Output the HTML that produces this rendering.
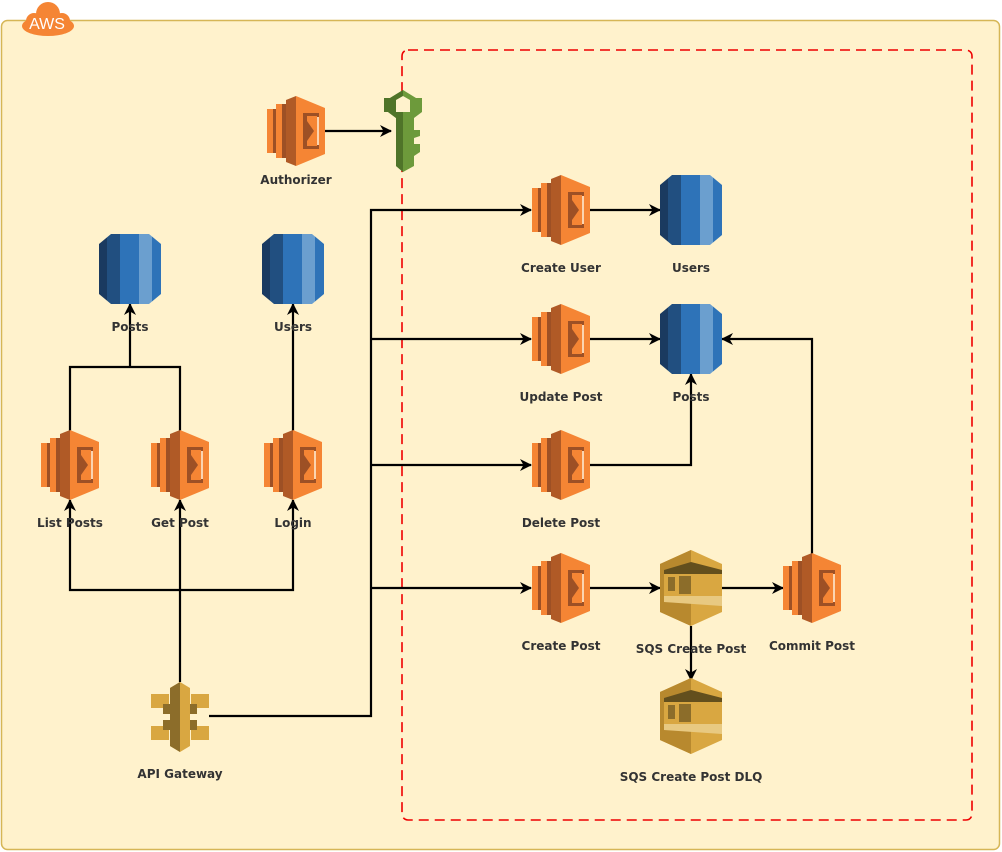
<!DOCTYPE html>
<html><head><meta charset="utf-8"><style>
html,body{margin:0;padding:0;background:#fff;}
svg{display:block;}
</style></head><body>
<svg width="1002" height="852" viewBox="0 0 1002 852" xmlns="http://www.w3.org/2000/svg" font-family="DejaVu Sans, Liberation Sans, sans-serif" font-size="12" font-weight="bold" text-anchor="middle">
<defs>
<marker id="ar" markerWidth="12" markerHeight="12" refX="11" refY="6" orient="auto" markerUnits="userSpaceOnUse">
<path d="M0,0 L12,6 L0,12 L3.5,6 Z" fill="#000"/>
</marker>
<g id="lam">
<rect x="0" y="13" width="6" height="44" fill="#f58534"/>
<rect x="6" y="13" width="3" height="44" fill="#9d5025"/>
<rect x="9" y="8" width="6" height="54" fill="#f58534"/>
<rect x="15" y="8" width="4" height="54" fill="#9d5025"/>
<polygon points="19,4 29,0 29,70 19,66" fill="#b05a26"/>
<polygon points="29,0 58,12 58,58 29,70" fill="#f58534"/>
<rect x="36" y="17" width="16" height="36" fill="#9d5025"/>
<polygon points="40,21 52,21 52,49 40,49" fill="#fbd4b0"/>
<rect x="36" y="20" width="14" height="30" fill="#f58534"/>
<polygon points="40,25 47,35 40,45" fill="#9d5025"/>
<rect x="36" y="20" width="4" height="30" fill="#9d5025"/>
</g>
<clipPath id="dbc"><polygon points="0,10 12,0 50,0 62,10 62,60 50,70 12,70 0,60"/></clipPath>
<g id="db">
<g clip-path="url(#dbc)">
<rect x="0" y="0" width="8" height="70" fill="#1a3a60"/>
<rect x="8" y="0" width="13" height="70" fill="#214f80"/>
<rect x="21" y="0" width="19" height="70" fill="#2e73b8"/>
<rect x="40" y="0" width="13" height="70" fill="#6b9fcf"/>
<rect x="53" y="0" width="9" height="70" fill="#2e73b8"/>
</g>
</g>
<g id="sqs">
<polygon points="31,0 62,14 62,62 31,76 0,62 0,14" fill="#d9a741"/>
<polygon points="31,0 0,14 0,62 31,76" fill="#b8892e"/>
<polygon points="4,20 31,12 62,20 62,24 4,24" fill="#634f1d"/>
<rect x="4" y="24" width="58" height="22" fill="#d9a741"/>
<rect x="8" y="27" width="7" height="14" fill="#8c6d2a"/>
<rect x="19" y="26" width="12" height="18" fill="#8c6d2a"/>
<polygon points="4,46 62,46 62,56 4,52" fill="#e8c981"/>
</g>
<g id="apig">
<rect x="0" y="12" width="18" height="14" fill="#d9a741"/>
<rect x="40" y="12" width="18" height="14" fill="#d9a741"/>
<rect x="0" y="44" width="18" height="14" fill="#d9a741"/>
<rect x="40" y="44" width="18" height="14" fill="#d9a741"/>
<rect x="12" y="22" width="34" height="10" fill="#8c6d2a"/>
<rect x="12" y="38" width="34" height="10" fill="#8c6d2a"/>
<polygon points="19,6 29,0 39,6 39,64 29,70 19,64" fill="#d9a741"/>
<polygon points="19,6 29,0 29,70 19,64" fill="#8c6d2a"/>
</g>
</defs>

<rect x="1.5" y="20.5" width="998" height="829" rx="6" fill="#fff2cc" stroke="#d6b656" stroke-width="1.5"/>
<g>
<ellipse cx="48" cy="26" rx="26" ry="10" fill="#f58534"/>
<circle cx="48" cy="14" r="12" fill="#f58534"/>
<circle cx="34" cy="21" r="8" fill="#f58534"/>
<circle cx="62" cy="21" r="8" fill="#f58534"/>
<text x="47" y="29" font-family="Liberation Sans, sans-serif" font-size="16" font-weight="normal" fill="#fff">AWS</text>
</g>

<rect x="402" y="50" width="570" height="770" rx="6" fill="none" stroke="#e00" stroke-width="1.6" stroke-dasharray="10,6"/>

<g fill="none" stroke="#000" stroke-width="2.2">
<path d="M325,131 H391" marker-end="url(#ar)"/>
<path d="M209,716 H371 V210 H531" marker-end="url(#ar)"/>
<path d="M371,339 H531" marker-end="url(#ar)"/>
<path d="M371,465 H531" marker-end="url(#ar)"/>
<path d="M371,588 H531" marker-end="url(#ar)"/>
<path d="M589,210 H660" marker-end="url(#ar)"/>
<path d="M589,339 H660" marker-end="url(#ar)"/>
<path d="M589,465 H691 V374" marker-end="url(#ar)"/>
<path d="M812,555 V339 H722" marker-end="url(#ar)"/>
<path d="M589,588 H660" marker-end="url(#ar)"/>
<path d="M722,588 H783" marker-end="url(#ar)"/>
<path d="M691,626 V680" marker-end="url(#ar)"/>
<path d="M180,682 V500" marker-end="url(#ar)"/>
<path d="M180,590 H70 V500" marker-end="url(#ar)"/>
<path d="M180,590 H293 V500" marker-end="url(#ar)"/>
<path d="M70,431 V367 H180 V431"/>
<path d="M130,367 V304" marker-end="url(#ar)"/>
<path d="M293,431 V304" marker-end="url(#ar)"/>
</g>

<g transform="translate(382,90)">
<polygon points="21,0 34,8 40,8 40,22 32,28 32,40 38,40 38,46 32,48 32,54 38,54 38,62 32,66 32,76 21,82 14,76 14,28 6,22 2,22 2,8 8,8" fill="#6d9a3b"/>
<polygon points="21,0 8,8 2,8 2,22 6,22 14,28 14,76 21,82" fill="#4f7429"/>
<polygon points="14,10 21,6 28,10 28,22 14,22" fill="#fff2cc"/>
</g>

<use href="#lam" x="267" y="96"/>
<use href="#lam" x="532" y="175"/>
<use href="#lam" x="532" y="304"/>
<use href="#lam" x="532" y="430"/>
<use href="#lam" x="532" y="553"/>
<use href="#lam" x="783" y="553"/>
<use href="#lam" x="41" y="430"/>
<use href="#lam" x="151" y="430"/>
<use href="#lam" x="264" y="430"/>
<use href="#db" x="660" y="175"/>
<use href="#db" x="660" y="304"/>
<use href="#db" x="99" y="234"/>
<use href="#db" x="262" y="234"/>
<use href="#sqs" x="660" y="550"/>
<use href="#sqs" x="660" y="678"/>
<use href="#apig" x="151" y="682"/>

<g fill="#333">
<text x="296" y="184">Authorizer</text>
<text x="561" y="272">Create User</text>
<text x="691" y="272">Users</text>
<text x="561" y="401">Update Post</text>
<text x="691" y="401">Posts</text>
<text x="561" y="527">Delete Post</text>
<text x="561" y="650">Create Post</text>
<text x="691" y="653">SQS Create Post</text>
<text x="812" y="650">Commit Post</text>
<text x="691" y="781">SQS Create Post DLQ</text>
<text x="130" y="331">Posts</text>
<text x="293" y="331">Users</text>
<text x="70" y="527">List Posts</text>
<text x="180" y="527">Get Post</text>
<text x="293" y="527">Login</text>
<text x="180" y="778">API Gateway</text>
</g>
</svg>
</body></html>
